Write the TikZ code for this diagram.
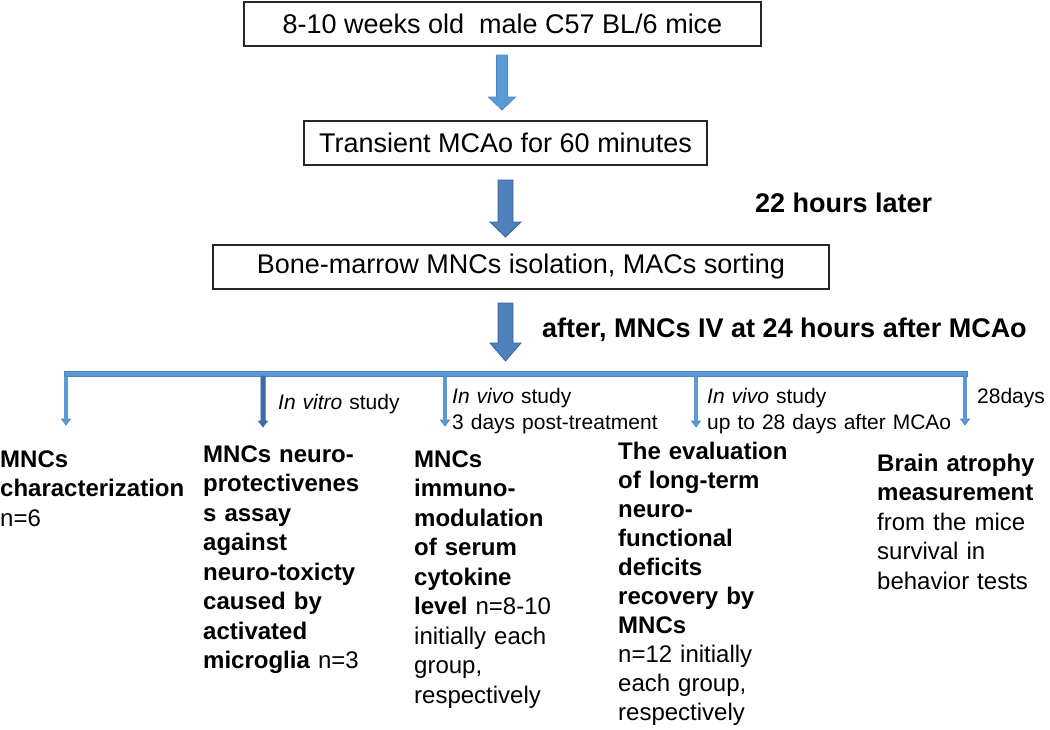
\documentclass[tikz,border=0pt]{standalone}
\usepackage{fontspec}
\setmainfont{Liberation Sans}
\definecolor{arrowA}{HTML}{5B9BD5}
\definecolor{arrowAd}{HTML}{4A86C0}
\definecolor{arrowB}{HTML}{4F81BD}
\definecolor{arrowBd}{HTML}{3A6496}
\definecolor{barblue}{HTML}{5B9BD5}
\definecolor{darkbar}{HTML}{3E6BA5}
\definecolor{boxline}{HTML}{262626}
% #1 style, #2 x centre, #3 y top, #4 y tip, #5 half shaft, #6 half head, #7 head length
\newcommand{\blkarrow}[7]{\path[#1] (#2-#5,#3) -- (#2+#5,#3) -- (#2+#5,#4-#7) -- (#2+#6,#4-#7) -- (#2,#4) -- (#2-#6,#4-#7) -- (#2-#5,#4-#7) -- cycle;}
\begin{document}
\begin{tikzpicture}[x=1pt,y=-1pt,
  box/.style={draw=boxline, inner sep=0pt, font=\fontsize{27}{32}\selectfont},
  boldlab/.style={anchor=base west, inner sep=0pt, font=\fontsize{27}{32}\selectfont\bfseries},
  lab/.style={anchor=base west, inner sep=0pt, text width=300pt, align=left, font=\fontsize{21}{26}\selectfont},
  col/.style={anchor=base west, inner sep=0pt, text width=250pt, align=left, font=\fontsize{24}{29.5}\selectfont},
  bigA/.style={fill=arrowA, draw=arrowAd, line width=0.8pt},
  bigB/.style={fill=arrowB, draw=arrowBd, line width=0.8pt},
  smallA/.style={fill=arrowA, draw=arrowAd, line width=0.6pt},
  smallB/.style={fill=darkbar, draw=darkbar, line width=0.6pt}]
\useasboundingbox (0,0) rectangle (1050,729);

% boxes
\node[box, line width=2.4pt, minimum width=517pt, minimum height=44pt] (b1) at (502.5,24) {8-10 weeks old\ \ male C57 BL/6 mice};
\node[box, line width=1.6pt, minimum width=403pt, minimum height=44pt] (b2) at (505.5,143) {Transient MCAo for 60 minutes};
\node[box, line width=1.5pt, minimum width=616pt, minimum height=44pt] (b3) at (521,267) {Bone-marrow MNCs isolation, MACs sorting};

% block arrows between boxes
\blkarrow{bigA}{502}{55}{110}{5.5}{13.5}{13}
\blkarrow{bigB}{505.5}{180}{237}{7.5}{15.5}{15}
\blkarrow{bigB}{505.5}{303}{361}{7.5}{15.5}{18}

\node[boldlab] (t22) at (755,212) {22 hours later};
\node[boldlab] (tafter) at (542,337) {after, MNCs IV at 24 hours after MCAo};

% horizontal bar
\coordinate (hl) at (64,374);
\coordinate (hr) at (967,374);
\fill[barblue] (64,371.5) rectangle (967,376.5);
\draw[arrowAd, line width=0.4pt] (64,371.5) rectangle (967,376.5);

% vertical arrows
\blkarrow{smallA}{66}{376}{425}{1.6}{4.5}{6}
\blkarrow{smallB}{263}{376}{427}{2.2}{4.5}{6}
\blkarrow{smallA}{445}{376}{426}{1.6}{4.5}{6}
\blkarrow{smallA}{696}{376}{427}{1.6}{4.5}{6}
\blkarrow{smallA}{965}{376}{425}{1.6}{4.5}{6}

% small labels
\node[lab] (l2) at (278,409) {\textit{In vitro} study};
\node[lab] (l3) at (452,403) {\textit{In vivo} study\\3 days post-treatment};
\node[lab] (l4) at (707,403) {\textit{In vivo} study\\up to 28 days after MCAo};
\node[lab, text width=80pt] (l5) at (977,403) {28days};

% bottom columns
\node[col] (c1) at (0,467) {\textbf{MNCs}\\\textbf{characterization}\\n=6};
\node[col] (c2) at (203,462) {\textbf{MNCs neuro-}\\\textbf{protectivenes}\\\textbf{s assay}\\\textbf{against}\\\textbf{neuro-toxicty}\\\textbf{caused by}\\\textbf{activated}\\\textbf{microglia} n=3};
\node[col] (c3) at (414,467) {\textbf{MNCs}\\\textbf{immuno-}\\\textbf{modulation}\\\textbf{of serum}\\\textbf{cytokine}\\\textbf{level} n=8-10\\initially each\\group,\\respectively};
\node[col, font=\fontsize{24}{29}\selectfont] (c4) at (618,459) {\textbf{The evaluation}\\\textbf{of long-term}\\\textbf{neuro-}\\\textbf{functional}\\\textbf{deficits}\\\textbf{recovery by}\\\textbf{MNCs}\\n=12 initially\\each group,\\respectively};
\node[col, text width=170pt] (c5) at (877,471) {\textbf{Brain atrophy}\\\textbf{measurement}\\from the mice\\survival in\\behavior tests};
\end{tikzpicture}
\end{document}
